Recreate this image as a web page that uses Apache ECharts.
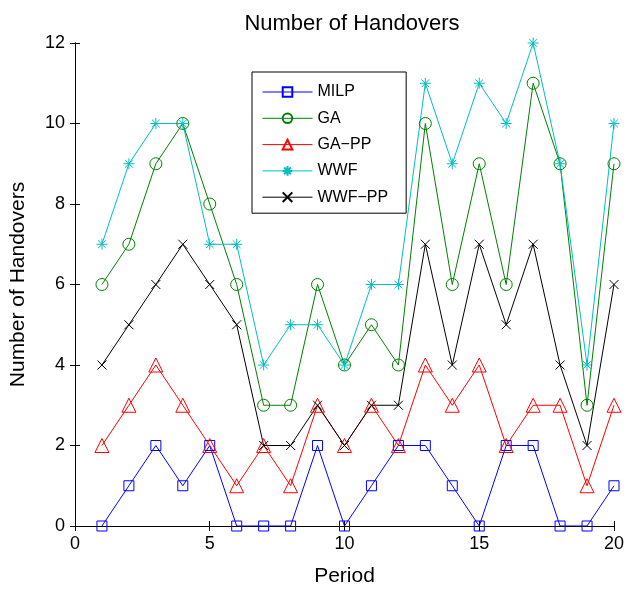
<!DOCTYPE html>
<html>
<head>
<meta charset="utf-8">
<script src="https://cdn.jsdelivr.net/npm/echarts@6/dist/echarts.min.js"></script>
<style>
  html, body { margin: 0; padding: 0; background: #fff; }
  #chart { width: 627px; height: 592px; }
</style>
</head>
<body>
<div id="chart"></div>
<script>
// Handover counts per period for each method
const periods = [1,2,3,4,5,6,7,8,9,10,11,12,13,14,15,16,17,18,19,20];
const milp  = [0,1,2,1,2,0,0,0,2,0,1,2,2,1,0,2,2,0,0,1];
const ga    = [6,7,9,10,8,6,3,3,6,4,5,4,10,6,9,6,11,9,3,9];
const gaPP  = [2,3,4,3,2,1,2,1,3,2,3,2,4,3,4,2,3,3,1,3];
const wwf   = [7,9,10,10,7,7,4,5,5,4,6,6,11,9,11,10,12,9,4,10];
const wwfPP = [4,5,6,7,6,5,2,2,3,2,3,3,7,4,7,5,7,4,2,6];
const xTicks = [0,5,10,15,20];
const yTicks = [0,2,4,6,8,10,12];

const FONT = 'Liberation Sans, Arial, Helvetica, sans-serif';

// Stroke-only marker shapes
const STAR = 'path://M0,-1L0,1M-1,0L1,0M-0.707,-0.707L0.707,0.707M-0.707,0.707L0.707,-0.707';
const CROSS = 'path://M-1,-1L1,1M-1,1L1,-1';
const SQUARE = 'path://M-1,-1L1,-1L1,1L-1,1Z';
const CIRCLE = 'circle';
const TRIANGLE = 'path://M0,-1L1,0.8L-1,0.8Z';

function makeSeries(name, values, color, symbol, size) {
  return {
    name: name,
    type: 'line',
    data: periods.map((p, i) => [p, values[i]]),
    color: color,
    symbol: symbol,
    symbolSize: size,
    showAllSymbol: true,
    lineStyle: { color: color, width: 1 },
    itemStyle: { color: 'rgba(255,255,255,0)', borderColor: color, borderWidth: 1 },
    emphasis: { disabled: true },
    animation: false
  };
}

const series = [
  makeSeries('MILP',   milp,  '#0000ff', SQUARE, 10),
  makeSeries('GA',     ga,    '#008000', CIRCLE, 12),
  makeSeries('GA\u2212PP',  gaPP,  '#ff0000', TRIANGLE, 14),
  makeSeries('WWF',    wwf,   '#00bfbf', STAR, 11),
  makeSeries('WWF\u2212PP', wwfPP, '#000000', CROSS, 9)
];

const axisCommon = {
  axisLine: { show: true, lineStyle: { color: '#000', width: 1 } },
  axisTick: { show: true, inside: true, length: 5, lineStyle: { color: '#000' } },
  splitLine: { show: false }
};

const chart = echarts.init(document.getElementById('chart'), null, { renderer: 'canvas' });
chart.setOption({
  backgroundColor: '#fff',
  animation: false,
  textStyle: { fontFamily: FONT },
  title: {
    text: 'Number of Handovers',
    left: 347, top: 8,
    textAlign: 'center',
    textStyle: { fontFamily: FONT, fontSize: 22, fontWeight: 'normal', color: '#000' }
  },
  grid: { left: 75, right: 12, top: 43, bottom: 65, containLabel: false },
  legend: {
    orient: 'vertical',
    left: 252, top: 72,
    padding: [12, 10, 8, 10],
    itemWidth: 50, itemHeight: 12, itemGap: 10.3,
    backgroundColor: '#fff',
    borderColor: '#000', borderWidth: 1,
    lineStyle: { width: 1 },
    textStyle: { fontFamily: FONT, fontSize: 16, color: '#000', padding: [0, 8, 0, 0], lineHeight: 16 },
    selectedMode: false
  },
  xAxis: [
    Object.assign({
      type: 'value', min: 0, max: 20, interval: 5,
      name: 'Period', nameLocation: 'middle', nameGap: 40,
      nameTextStyle: { fontFamily: FONT, fontSize: 21, color: '#000' },
      axisLabel: {
        fontFamily: FONT, fontSize: 18, color: '#000', margin: 9,
        formatter: v => xTicks.includes(v) ? String(v) : ''
      }
    }, axisCommon),
    Object.assign({
      type: 'value', min: 0, max: 20, interval: 5, position: 'top',
      axisLabel: { show: false }
    }, axisCommon)
  ],
  yAxis: [
    Object.assign({
      type: 'value', min: 0, max: 12, interval: 2,
      name: 'Number of Handovers', nameLocation: 'middle', nameGap: 46,
      nameTextStyle: { fontFamily: FONT, fontSize: 21, color: '#000' },
      axisLabel: {
        fontFamily: FONT, fontSize: 18, color: '#000', margin: 10,
        formatter: v => yTicks.includes(v) ? String(v) : ''
      }
    }, axisCommon),
    Object.assign({
      type: 'value', min: 0, max: 12, interval: 2, position: 'right',
      axisLabel: { show: false }
    }, axisCommon)
  ],
  series: series
});
</script>
</body>
</html>
